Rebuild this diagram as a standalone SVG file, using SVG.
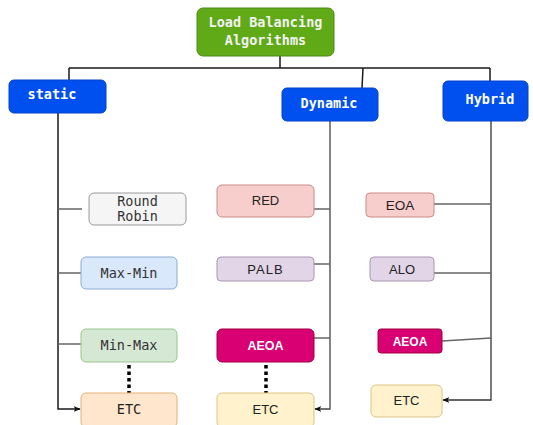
<svg xmlns="http://www.w3.org/2000/svg" width="533" height="425" viewBox="0 0 533 425">
<defs>
<style>
.mono{font-family:"DejaVu Sans Mono","Liberation Mono",monospace;font-size:13.5px;text-anchor:middle}
.sans{font-family:"Liberation Sans",Arial,sans-serif;font-size:13px;text-anchor:middle;fill:#222}
.hdr{fill:#0050ef;stroke:#0043c9;stroke-width:1}
.hdrt{fill:#fff;font-weight:bold}
.tree{stroke:#1a1a1a;stroke-width:1.5;fill:none}
.br{stroke:#666;stroke-width:1.3;fill:none}
.dot{stroke:#000;stroke-width:3.5;stroke-dasharray:3.5 3;fill:none}
</style>
<marker id="ah" viewBox="0 0 10 10" refX="9" refY="5" markerWidth="7" markerHeight="7" orient="auto" markerUnits="userSpaceOnUse">
<path d="M0,1 L10,5 L0,9 L2.5,5 Z" fill="#111"/>
</marker>
</defs>
<rect width="533" height="425" fill="#fff"/>
<g id="connectors">
<path class="tree" d="M280,56 V68 M69,68 H490 M69,68 V80 M490,68 V81 M363,68 L362,88"/>
<path class="tree" d="M58,113 V409 H80" marker-end="url(#ah)"/>
<path class="br" d="M58,209 H82 M58,273 H81 M58,344 H81"/>
<path class="tree" d="M330,121 V409 H315" marker-end="url(#ah)" style="stroke:#444;stroke-width:1.3"/>
<path class="br" d="M314,209 H330 M314,264 H330 M314,338 H330"/>
<path class="tree" d="M491,121 V400 H443" marker-end="url(#ah)" style="stroke:#333;stroke-width:1.3"/>
<path class="br" d="M434,204 H491 M434,273 H491 M442,341 L491,338"/>
<path class="dot" d="M129,365 V393 M266,365 V393"/>
</g>
<g id="root">
<rect x="197" y="8" width="137" height="48" rx="6" fill="#60a917" stroke="#4c8a12"/>
<text class="mono" x="265.5" y="27" fill="#f2f2f2" font-weight="bold">Load Balancing</text>
<text class="mono" x="265.5" y="45" fill="#f2f2f2" font-weight="bold">Algorithms</text>
</g>
<g id="static">
<rect class="hdr" x="9" y="80" width="97" height="33" rx="5"/>
<text class="mono hdrt" x="52" y="99">static</text>
</g>
<g id="dynamic">
<rect class="hdr" x="282" y="88" width="96" height="33" rx="5"/>
<text class="mono hdrt" x="329" y="108">Dynamic</text>
</g>
<g id="hybrid">
<rect class="hdr" x="443" y="81" width="85" height="40" rx="5"/>
<text class="mono hdrt" x="490" y="104">Hybrid</text>
</g>
<g id="round-robin">
<rect x="89" y="193" width="97" height="32" rx="5" fill="#f5f5f5" stroke="#9a9a9a"/>
<text class="mono" x="137.5" y="206" fill="#333">Round</text>
<text class="mono" x="137.5" y="221" fill="#333">Robin</text>
</g>
<g id="max-min">
<rect x="81" y="257" width="96" height="32" rx="5" fill="#dae8fc" stroke="#8eaad3"/>
<text class="mono" x="129" y="278" fill="#333">Max-Min</text>
</g>
<g id="min-max">
<rect x="81" y="329" width="96" height="33" rx="5" fill="#d5e8d4" stroke="#9cc48e"/>
<text class="mono" x="129" y="350" fill="#333">Min-Max</text>
</g>
<g id="etc-static">
<rect x="81" y="393" width="96" height="34" rx="5" fill="#ffe6cc" stroke="#e0b27a"/>
<text class="mono" x="129" y="414" fill="#222">ETC</text>
</g>
<g id="red">
<rect x="217" y="185" width="97" height="32" rx="5" fill="#f8cecc" stroke="#c98a87"/>
<text class="sans" x="265.5" y="205">RED</text>
</g>
<g id="palb">
<rect x="217" y="257" width="97" height="24" rx="4" fill="#e1d5e7" stroke="#a996b5"/>
<text class="sans" x="265.5" y="274" letter-spacing="1">PALB</text>
</g>
<g id="aeoa-dynamic">
<rect x="217" y="329" width="97" height="33" rx="5" fill="#d80073" stroke="#a50040"/>
<text class="sans" x="265.5" y="350" fill="#fff" font-weight="bold" style="fill:#fff;font-size:12.5px">AEOA</text>
</g>
<g id="etc-dynamic">
<rect x="217" y="393" width="97" height="34" rx="5" fill="#fff2cc" stroke="#dcc487"/>
<text class="sans" x="265.5" y="414">ETC</text>
</g>
<g id="eoa">
<rect x="366" y="193" width="68" height="24" rx="4" fill="#f8cecc" stroke="#c98a87"/>
<text class="sans" x="400" y="210" style="font-size:13.5px">EOA</text>
</g>
<g id="alo">
<rect x="370" y="257" width="64" height="24" rx="4" fill="#e1d5e7" stroke="#a996b5"/>
<text class="sans" x="402" y="274">ALO</text>
</g>
<g id="aeoa-hybrid">
<rect x="378" y="329" width="64" height="24" rx="3" fill="#d80073" stroke="#a50040"/>
<text class="sans" x="410" y="345.5" font-weight="bold" style="fill:#fff;font-size:12px">AEOA</text>
</g>
<g id="etc-hybrid">
<rect x="371" y="385" width="71" height="32" rx="5" fill="#fff2cc" stroke="#dcc487"/>
<text class="sans" x="406.5" y="405">ETC</text>
</g>
</svg>
